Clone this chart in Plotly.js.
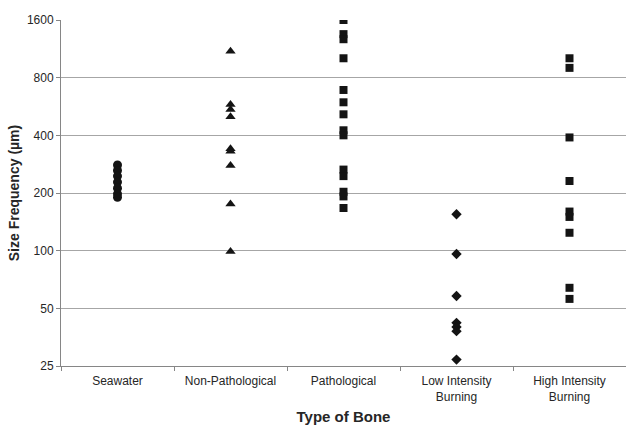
<!DOCTYPE html>
<html>
<head>
<meta charset="utf-8">
<script src="https://cdn.plot.ly/plotly-3.0.1.min.js"></script>
<style>html,body{margin:0;padding:0;background:#fff;}#chart{width:626px;height:425px;}</style>
</head>
<body>
<div id="chart"></div>
<script>
const categories = ["Seawater", "Non-Pathological", "Pathological", "Low Intensity<br>Burning", "High Intensity<br>Burning"];
const seawater = [280, 262, 245, 228, 212, 198, 190];
const nonPathological = [1100, 580, 545, 500, 340, 330, 278, 175, 99];
const pathological = [1600, 1350, 1270, 1010, 690, 595, 515, 425, 400, 265, 245, 203, 192, 167];
const lowIntensity = [155, 96, 58, 42, 40, 38, 27];
const highIntensity = [1010, 900, 390, 231, 160, 150, 124, 64, 56];
const tickVals = [25, 50, 100, 200, 400, 800, 1600];

const groups = [
  {vals: seawater, sym: "circle", size: 9},
  {vals: nonPathological, sym: "triangle-up", size: 9},
  {vals: pathological, sym: "square", size: 8},
  {vals: lowIntensity, sym: "diamond", size: 8},
  {vals: highIntensity, sym: "square", size: 8}
];
const traces = groups.map((g, i) => ({
  type: "scatter", mode: "markers",
  x: g.vals.map(() => categories[i]),
  y: g.vals,
  marker: {symbol: g.sym, size: g.size, color: "#141414", line: {width: 0}},
  hoverinfo: "y", showlegend: false
}));

const layout = {
  width: 626, height: 425,
  margin: {l: 61, r: 0, t: 20, b: 59},
  paper_bgcolor: "#fff", plot_bgcolor: "#fff",
  font: {family: "Liberation Sans, Arial, sans-serif", color: "#262626", size: 11.5},
  xaxis: {
    type: "category", categoryarray: categories, range: [-0.5, 4.5],
    tickson: "boundaries", ticks: "outside", ticklen: 4, tickcolor: "#868686",
    showline: true, linecolor: "#868686", linewidth: 1,
    showgrid: false, zeroline: false,
    ticklabelstandoff: 4,
    tickfont: {size: 12, color: "#262626"},
    title: {text: "<b>Type of Bone</b>", font: {size: 15, color: "#262626"}, standoff: 8},
    automargin: false
  },
  yaxis: {
    type: "log", range: [Math.log10(25), Math.log10(1600)],
    tickvals: tickVals, ticktext: tickVals.map(String),
    ticks: "outside", ticklen: 4, tickcolor: "#868686",
    showline: true, linecolor: "#868686", linewidth: 1,
    showgrid: true, gridcolor: "#a6a6a6", gridwidth: 1,
    zeroline: false,
    tickfont: {size: 12, color: "#262626"},
    title: {text: "<b>Size Frequency (µm)</b>", font: {size: 14, color: "#262626"}, standoff: 3},
    automargin: false
  }
};
Plotly.newPlot("chart", traces, layout, {displayModeBar: false, staticPlot: true});
</script>
</body>
</html>
